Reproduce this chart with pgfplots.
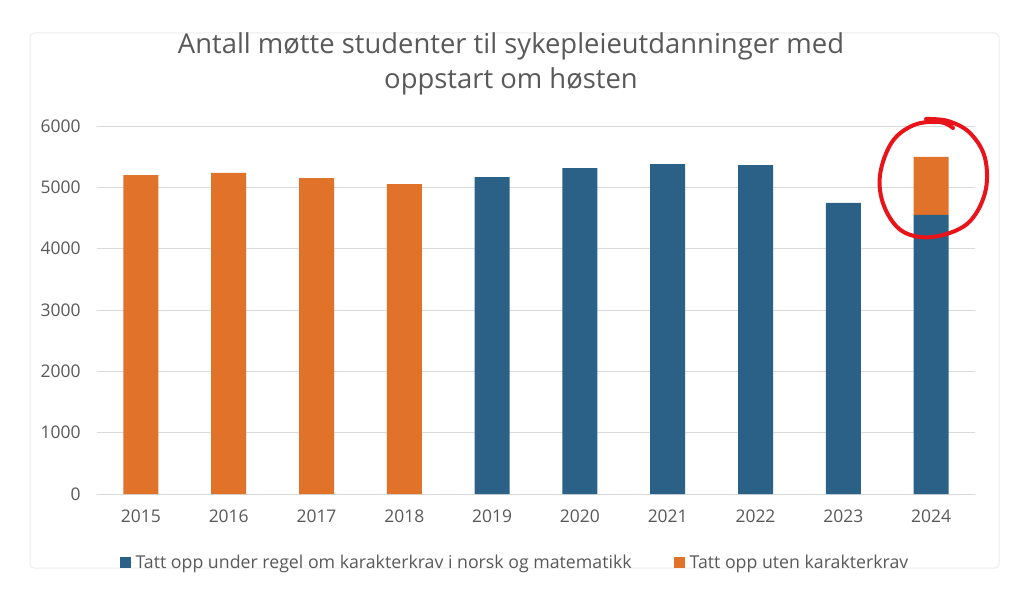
\documentclass[border=0pt]{standalone}
\usepackage{pgfplots}
\pgfplotsset{compat=1.18}
\usepackage{fontspec}
\setmainfont{Open Sans}
\definecolor{cblue}{HTML}{2B6186}
\definecolor{corange}{HTML}{E0722A}
\definecolor{tgray}{HTML}{595959}
\definecolor{gridc}{HTML}{D9D9D9}
\definecolor{cred}{HTML}{E8141A}
\begin{document}
\begin{tikzpicture}[x=1bp,y=-1bp]
\path[fill=white] (0,0) rectangle (1024,590);
\draw[black!7, line width=1bp, rounded corners=4bp] (30,33) rectangle (999,568);
\node[anchor=base, text=tgray, font=\fontsize{27.5}{30}\selectfont] at (511,54) {Antall møtte studenter til sykepleieutdanninger med};
\node[anchor=base, text=tgray, font=\fontsize{27.5}{30}\selectfont] at (511,89) {oppstart om høsten};
\begin{axis}[
  at={(97bp,-494bp)}, anchor=south west,
  scale only axis, width=878bp, height=368bp,
  ybar stacked, bar width=35bp,
  xmin=-0.5, xmax=9.5, ymin=0, ymax=6000,
  ytick={0,1000,...,6000},
  xtick={0,...,9},
  xticklabels={2015,2016,2017,2018,2019,2020,2021,2022,2023,2024},
  ymajorgrids, grid style={gridc, line width=1bp},
  axis x line*=bottom, axis y line*=left,
  axis line style={draw=none},
  major tick length=0pt,
  /pgf/number format/assume math mode=true,
  /pgf/number format/1000 sep={},
  ticklabel style={text=tgray, font=\fontsize{17.5}{20}\selectfont},
  yticklabel style={xshift=-13bp},
  xticklabel style={yshift=-12bp},
  legend style={at={(0.476,-0.185)}, anchor=center, legend columns=2, draw=none, fill=none,
    font=\fontsize{17.8}{20}\selectfont, text=tgray,
    /tikz/every even column/.append style={column sep=40bp}},
  legend image code/.code={\fill[#1] (0bp,-5.5bp) rectangle (11bp,5.5bp);\path (0bp,0bp) -- (14bp,0bp);},
]
\addplot+[fill=cblue, draw=none] coordinates {(0,0) (1,0) (2,0) (3,0) (4,5168) (5,5315) (6,5380) (7,5364) (8,4745) (9,4549)};
\addlegendentry{Tatt opp under regel om karakterkrav i norsk og matematikk}
\addplot+[fill=corange, draw=none] coordinates {(0,5201) (1,5234) (2,5152) (3,5054) (4,0) (5,0) (6,0) (7,0) (8,0) (9,946)};
\addlegendentry{Tatt opp uten karakterkrav}
\end{axis}
\draw[cred, line width=4bp, line cap=round, line join=round] plot[smooth, tension=0.6] coordinates {(926,119) (948,121) (970,133) (985,158) (985,193) (967,224) (932,237) (902,231) (884,206) (880,175) (892,142) (914,125) (940,122) (953,128)};
\end{tikzpicture}
\end{document}
